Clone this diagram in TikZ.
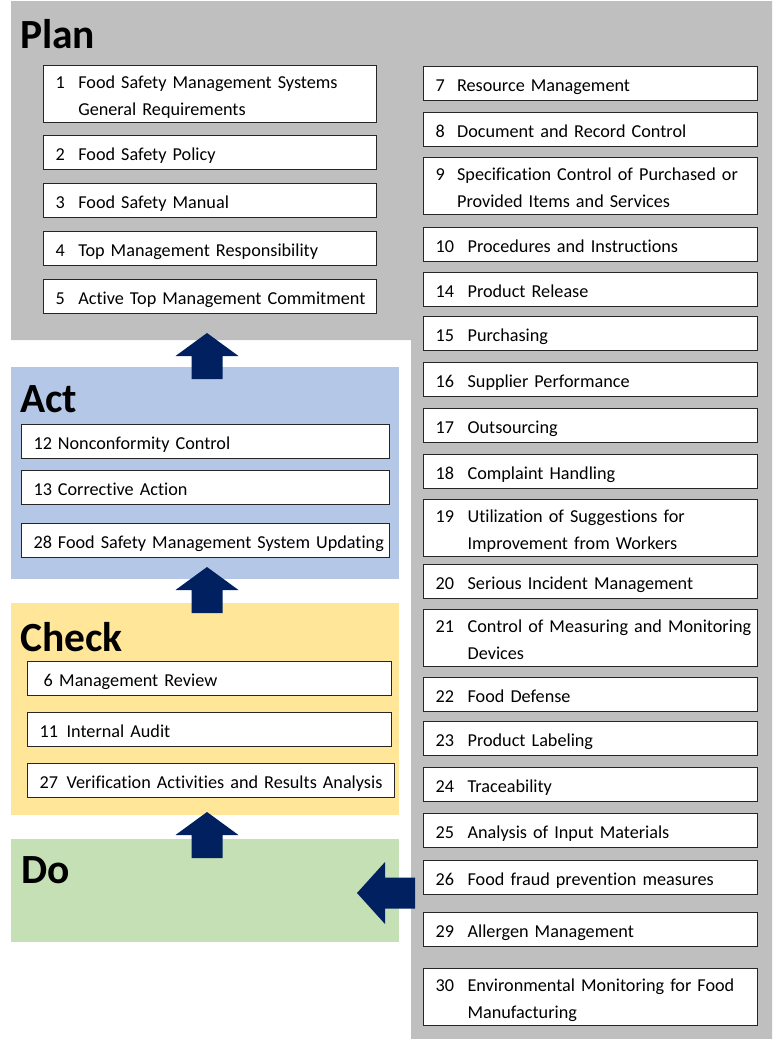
\documentclass[tikz,border=0pt]{standalone}
\usepackage{fontspec}
\setmainfont{Carlito}[Ligatures=NoCommon]
\usetikzlibrary{positioning,calc}
\definecolor{plangrey}{RGB}{191,191,191}
\definecolor{actblue}{RGB}{180,199,231}
\definecolor{checkyellow}{RGB}{255,230,153}
\definecolor{dogreen}{RGB}{197,224,180}
\definecolor{navy}{RGB}{0,32,96}
% number column of fixed width, then one or more lines of text
\newcommand{\clause}[3]{\noindent\raisebox{-2.5pt}[\height][\depth]{\begin{tabular}{@{}l@{}l@{}}\makebox[#1][l]{#2} & \begin{tabular}[t]{@{}l@{}}#3\end{tabular}\end{tabular}}}
\tikzset{
  region/.style={anchor=north west, inner sep=0pt, outer sep=0pt},
  phase/.style={anchor=base west, inner sep=0pt, font=\fontsize{41.5}{45}\selectfont\bfseries},
  item/.style={draw=black!85, line width=1.2pt, fill=white, anchor=north west,
               inner xsep=12pt, inner ysep=0pt, minimum height=34pt, align=left,
               font=\fontsize{18.2}{27}\selectfont},
  planitem/.style={item, text width=309pt},
  rightitem/.style={item, text width=310pt},
  actitem/.style={item, text width=344pt},
  checkitem/.style={item, text width=340pt},
  tall/.style={minimum height=57pt},
  uparrow/.pic={\fill[navy] (0,0) -- (31.5,23) -- (15.5,23) -- (15.5,46)
                -- (-15.5,46) -- (-15.5,23) -- (-31.5,23) -- cycle;},
  leftarrow/.pic={\fill[navy] (0,0) -- (28,-31) -- (28,-15.5) -- (58,-15.5)
                -- (58,15.5) -- (28,15.5) -- (28,31) -- cycle;},
}

\begin{document}
\begin{tikzpicture}[x=1pt, y=-1pt]
  \useasboundingbox (0,0) rectangle (772,1039);

  % Plan: grey L-shaped background
  \fill[plangrey] (11,1) -- (772,1) -- (772,1039) -- (411,1039) -- (411,340) -- (11,340) -- cycle;

  \node[region, fill=actblue, minimum width=388pt, minimum height=212pt] (act) at (11,367) {};
  \node[region, fill=checkyellow, minimum width=388pt, minimum height=212pt] (check) at (11,603) {};
  \node[region, fill=dogreen, minimum width=388pt, minimum height=103pt] (do) at (11,839) {};

  \node[phase] (plantitle) at (20,48) {Plan};
  \node[phase] (acttitle) at (20,412) {Act};
  \node[phase] (checktitle) at (20,651) {Check};
  \node[phase] (dotitle) at (21,883) {Do};

  % Plan, left column
  \node[planitem, tall] (p1) at (43,65) {\clause{22.7pt}{1}{Food Safety Management Systems\\General Requirements}};
  \node[planitem] (p2) at (43,135) {\clause{22.7pt}{2}{Food Safety Policy}};
  \node[planitem] (p3) at (43,183) {\clause{22.7pt}{3}{Food Safety Manual}};
  \node[planitem] (p4) at (43,231) {\clause{22.7pt}{4}{Top Management Responsibility}};
  \node[planitem] (p5) at (43,279) {\clause{22.7pt}{5}{Active Top Management Commitment}};

  % Plan, right column
  \node[rightitem] (r7) at (423,66) {\clause{21.5pt}{7}{Resource Management}};
  \node[rightitem] (r8) at (423,112) {\clause{21.5pt}{8}{Document and Record Control}};
  \node[rightitem, tall] (r9) at (423,157) {\clause{21.5pt}{9}{Specification Control of Purchased or\\Provided Items and Services}};
  \node[rightitem] (r10) at (423,227) {\clause{32pt}{10}{Procedures and Instructions}};
  \node[rightitem] (r14) at (423,272) {\clause{32pt}{14}{Product Release}};
  \node[rightitem] (r15) at (423,316) {\clause{32pt}{15}{Purchasing}};
  \node[rightitem] (r16) at (423,362) {\clause{32pt}{16}{Supplier Performance}};
  \node[rightitem] (r17) at (423,408) {\clause{32pt}{17}{Outsourcing}};
  \node[rightitem] (r18) at (423,454) {\clause{32pt}{18}{Complaint Handling}};
  \node[rightitem, tall] (r19) at (423,499) {\clause{32pt}{19}{Utilization of Suggestions for\\Improvement from Workers}};
  \node[rightitem] (r20) at (423,564) {\clause{32pt}{20}{Serious Incident Management}};
  \node[rightitem, tall] (r21) at (423,609) {\clause{32pt}{21}{Control of Measuring and Monitoring\\Devices}};
  \node[rightitem] (r22) at (423,677) {\clause{32pt}{22}{Food Defense}};
  \node[rightitem] (r23) at (423,721) {\clause{32pt}{23}{Product Labeling}};
  \node[rightitem] (r24) at (423,767) {\clause{32pt}{24}{Traceability}};
  \node[rightitem] (r25) at (423,813) {\clause{32pt}{25}{Analysis of Input Materials}};
  \node[rightitem] (r26) at (423,860) {\clause{32pt}{26}{Food fraud prevention measures}};
  \node[rightitem] (r29) at (423,912) {\clause{32pt}{29}{Allergen Management}};
  \node[rightitem, tall] (r30) at (423,968) {\clause{32pt}{30}{Environmental Monitoring for Food\\Manufacturing}};

  % Act
  \node[actitem] (a12) at (21,424) {\clause{24.3pt}{12}{Nonconformity Control}};
  \node[actitem] (a13) at (21,470) {\clause{24.3pt}{13}{Corrective Action}};
  \node[actitem] (a28) at (21,523) {\clause{24.3pt}{28}{Food Safety Management System Updating}};

  % Check
  \node[checkitem] (c6) at (27,661) {\clause{19.6pt}{\hspace{4pt}6}{Management Review}};
  \node[checkitem] (c11) at (27,712) {\clause{27pt}{11}{Internal Audit}};
  \node[checkitem, text width=343pt] (c27) at (27,763) {\clause{27pt}{27}{Verification Activities and Results Analysis}};

  % cycle arrows
  \pic at (207,333) {uparrow};
  \pic at (207,567) {uparrow};
  \pic at (207,812) {uparrow};
  \pic at (357,893) {leftarrow};
\end{tikzpicture}
\end{document}
